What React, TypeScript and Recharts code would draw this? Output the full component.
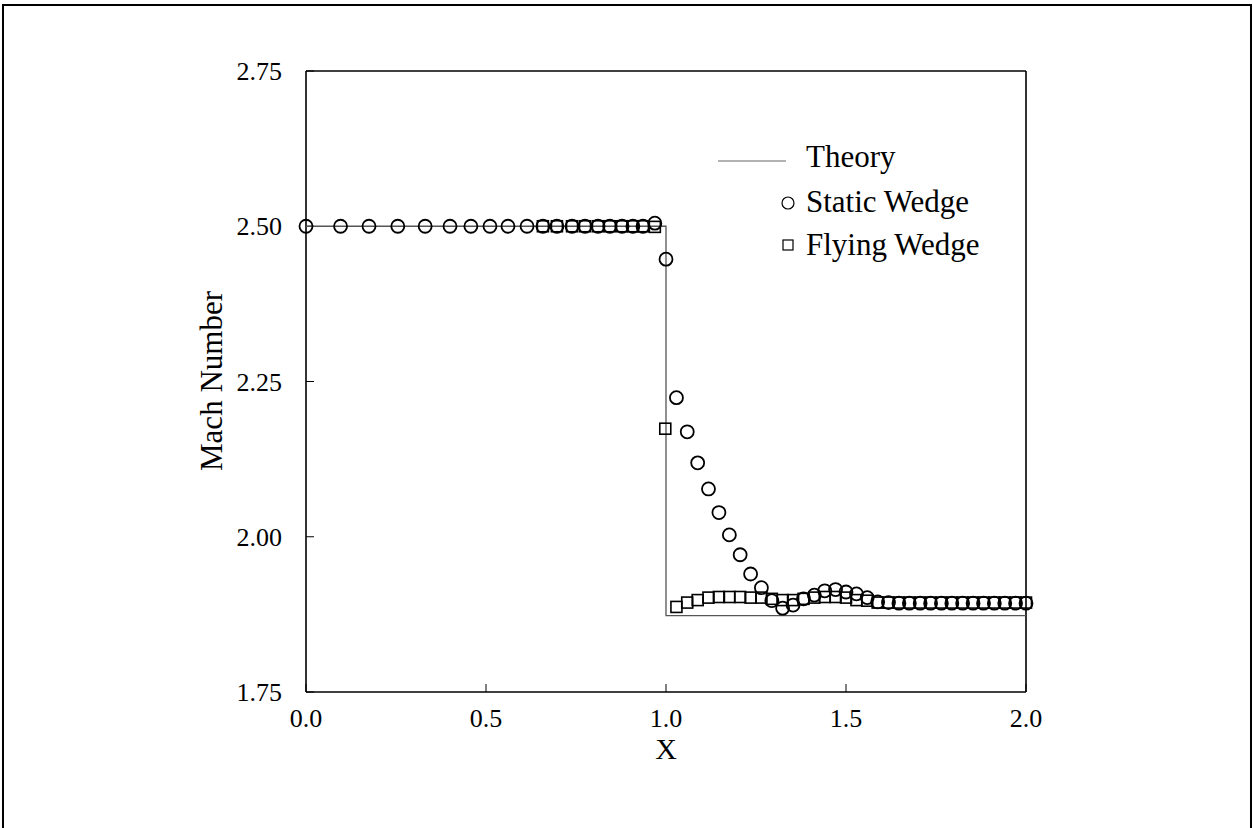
import React from "react";
import { ScatterChart, Scatter, XAxis, YAxis, Label } from "recharts";

const FONT = '"Liberation Serif", "Times New Roman", serif';

// theory: jump from 2.5 to ~1.873 at x = 1
const THEORY_X = [0, 1, 1, 2];
const THEORY_Y = [2.5, 2.5, 1.873, 1.873];

// static wedge (circles)
const STATIC_X = [
  0, 0.096, 0.175, 0.255, 0.331, 0.4, 0.458, 0.511, 0.561, 0.614, 0.658, 0.697, 0.739, 0.775, 0.811,
  0.844, 0.878, 0.908, 0.936, 0.969,
  1.0, 1.029, 1.059, 1.088, 1.118, 1.147, 1.176, 1.206, 1.235, 1.265, 1.294, 1.324, 1.353, 1.382,
  1.412, 1.441, 1.471, 1.5, 1.529, 1.559, 1.588, 1.618, 1.647, 1.676, 1.706, 1.735, 1.765, 1.794,
  1.824, 1.853, 1.882, 1.912, 1.941, 1.971, 2.0,
];
const STATIC_Y = [
  2.5, 2.5, 2.5, 2.5, 2.5, 2.5, 2.5, 2.5, 2.5, 2.5, 2.5, 2.5, 2.5, 2.5, 2.5,
  2.5, 2.5, 2.5, 2.5, 2.505,
  2.447, 2.224, 2.169, 2.119, 2.077, 2.039, 2.003, 1.971, 1.94, 1.918, 1.897, 1.885, 1.89, 1.9,
  1.906, 1.913, 1.915, 1.911, 1.908, 1.902, 1.895, 1.894, 1.893, 1.893, 1.893, 1.893, 1.893, 1.893,
  1.893, 1.893, 1.893, 1.893, 1.893, 1.893, 1.893,
];

// flying wedge (squares)
const FLYING_X = [
  0.658, 0.697, 0.739, 0.775, 0.811, 0.844, 0.878, 0.908, 0.936, 0.969,
  0.998, 1.029, 1.059, 1.088, 1.118, 1.147, 1.176, 1.206, 1.235, 1.265, 1.294, 1.324, 1.353, 1.382,
  1.412, 1.441, 1.471, 1.5, 1.529, 1.559, 1.588, 1.618, 1.647, 1.676, 1.706, 1.735, 1.765, 1.794,
  1.824, 1.853, 1.882, 1.912, 1.941, 1.971, 2.0,
];
const FLYING_Y = [
  2.5, 2.5, 2.5, 2.5, 2.5, 2.5, 2.5, 2.5, 2.5, 2.499,
  2.174, 1.887, 1.894, 1.898, 1.902, 1.903, 1.903, 1.903, 1.902, 1.902, 1.9, 1.898, 1.898, 1.9,
  1.902, 1.903, 1.903, 1.902, 1.898, 1.897, 1.894, 1.894, 1.894, 1.894, 1.894, 1.894, 1.894, 1.894,
  1.894, 1.894, 1.894, 1.894, 1.894, 1.894, 1.894,
];

const X_TICKS = [0, 0.5, 1, 1.5, 2];
const Y_TICKS = [1.75, 2, 2.25, 2.5, 2.75];
const X_MINOR = [0.5, 1, 1.5];
const Y_MINOR = [2, 2.25, 2.5];

const toPoints = (xs: number[], ys: number[]) => xs.map((x, i) => ({ x, y: ys[i] }));

const theoryData = toPoints(THEORY_X, THEORY_Y);
const staticData = toPoints(STATIC_X, STATIC_Y);
const flyingData = toPoints(FLYING_X, FLYING_Y);

const Circle = (p: any) => (
  <circle cx={p.cx} cy={p.cy} r={6.5} fill="none" stroke="#000" strokeWidth={1.8} />
);
const Square = (p: any) => (
  <rect x={p.cx - 5.5} y={p.cy - 5.5} width={11} height={11} fill="none" stroke="#000" strokeWidth={1.6} />
);
const NoDot = () => <g />;

const tickStyle = { fill: "#000", fontSize: 26, fontFamily: FONT };
const axisLine = { stroke: "#000", strokeWidth: 1.6 };

export default function App() {
  return (
    <div style={{ position: "absolute", left: 0, top: 0, width: 1253, height: 828, background: "#fff", fontFamily: FONT }}>
      <ScatterChart width={1253} height={828} margin={{ top: 70, right: 226, bottom: 66, left: 0 }}>
        <XAxis
          xAxisId="b" type="number" dataKey="x" domain={[0, 2]} ticks={X_TICKS}
          tickFormatter={(v) => v.toFixed(1)} height={70}
          axisLine={axisLine} tickLine={{ stroke: "#000" }} tickSize={-8} tickMargin={25} tick={tickStyle}
        >
          <Label value="X" position="insideBottom" offset={3} style={{ fill: "#000", fontSize: 30, fontFamily: FONT }} />
        </XAxis>
        <XAxis
          xAxisId="t" orientation="top" type="number" dataKey="x" domain={[0, 2]} ticks={X_MINOR} height={1}
          axisLine={axisLine} tickLine={{ stroke: "#000" }} tickSize={-8} tick={false}
        />
        <YAxis
          yAxisId="l" type="number" dataKey="y" domain={[1.75, 2.75]} ticks={Y_TICKS}
          tickFormatter={(v) => v.toFixed(2)} width={306}
          axisLine={axisLine} tickLine={{ stroke: "#000" }} tickSize={-8} tickMargin={32} tick={tickStyle}
        />
        <YAxis
          yAxisId="r" orientation="right" type="number" dataKey="y" domain={[1.75, 2.75]} ticks={Y_MINOR} width={1}
          axisLine={axisLine} tickLine={{ stroke: "#000" }} tickSize={-8} tick={false}
        />
        {/* invisible series so the top/right frame axes get drawn */}
        <Scatter data={theoryData} xAxisId="t" yAxisId="r" shape={NoDot} isAnimationActive={false} />
        <Scatter
          name="Theory" data={theoryData} xAxisId="b" yAxisId="l"
          line={{ stroke: "#555", strokeWidth: 1.3 }} shape={NoDot} isAnimationActive={false}
        />
        <Scatter name="Static Wedge" data={staticData} xAxisId="b" yAxisId="l" shape={Circle} isAnimationActive={false} />
        <Scatter name="Flying Wedge" data={flyingData} xAxisId="b" yAxisId="l" shape={Square} isAnimationActive={false} />
      </ScatterChart>

      <svg width={1253} height={828} style={{ position: "absolute", left: 0, top: 0, pointerEvents: "none" }}>
        {/* outer frame of the figure, bottom edge cut off */}
        <polyline points="3,840 3,5 1251,5 1251,840" fill="none" stroke="#000" strokeWidth={2} />

        <text transform="translate(222,381) rotate(-90)" textAnchor="middle" fontSize={31} fontFamily={FONT} fill="#000">
          Mach Number
        </text>

        {/* legend */}
        <line x1={718} y1={161} x2={786} y2={161} stroke="#666" strokeWidth={1.2} />
        <text x={806} y={167} fontSize={31} fontFamily={FONT} fill="#000">Theory</text>
        <circle cx={788} cy={203} r={6} fill="none" stroke="#000" strokeWidth={1.2} />
        <text x={806} y={212} fontSize={31} fontFamily={FONT} fill="#000">Static Wedge</text>
        <rect x={783} y={240} width={10} height={10} fill="none" stroke="#000" strokeWidth={1.2} />
        <text x={806} y={255} fontSize={31} fontFamily={FONT} fill="#000">Flying Wedge</text>
      </svg>
    </div>
  );
}
